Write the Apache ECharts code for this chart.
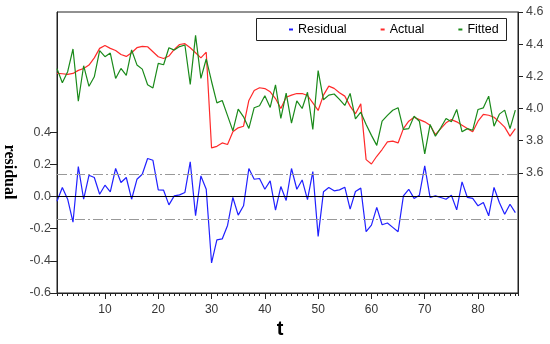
<!DOCTYPE html>
<html>
<head>
<meta charset="utf-8">
<script src="https://cdn.jsdelivr.net/npm/echarts@6/dist/echarts.min.js"></script>
<style>html,body{margin:0;padding:0;background:#fff}#c{width:550px;height:344px}</style>
</head>
<body>
<div id="c"></div>
<script>
const residual = [-0.03,0.056,-0.017,-0.16,0.186,-0.017,0.132,0.118,0.014,0.07,
0.029,0.174,0.087,0.118,-0.017,0.107,0.138,0.236,0.225,0.041,
0.039,-0.052,0.004,0.01,0.025,0.215,-0.12,0.128,0.045,-0.413,
-0.27,-0.264,-0.18,-0.006,-0.116,-0.058,0.174,0.107,0.112,0.045,
0.097,-0.085,0.062,-0.025,0.174,0.045,0.103,-0.02,0.155,-0.248,
0.029,0.056,0.035,0.041,0.058,-0.079,0.031,0.052,-0.219,-0.178,
-0.068,-0.176,-0.165,-0.192,-0.219,0.004,0.045,-0.012,0.008,0.19,
-0.006,0.004,-0.006,-0.017,0.008,-0.083,0.091,-0.006,-0.012,-0.058,
-0.037,-0.12,0.056,-0.037,-0.11,-0.048,-0.1];
const actual = [4.218,4.216,4.212,4.218,4.237,4.249,4.27,4.315,4.374,4.392,
4.374,4.361,4.336,4.324,4.347,4.378,4.386,4.384,4.353,4.322,
4.311,4.326,4.367,4.398,4.403,4.378,4.347,4.315,4.35,3.755,
3.765,3.786,3.776,3.855,3.88,3.89,4.05,4.112,4.129,4.124,
4.104,4.062,4.0,4.07,4.083,4.093,4.093,4.081,4.035,3.988,
4.083,4.139,4.125,4.098,4.077,4.015,3.967,4.029,3.682,3.655,
3.703,3.745,3.792,3.797,3.786,3.875,3.921,3.946,3.931,3.917,
3.896,3.838,3.875,3.911,3.931,3.917,3.896,3.875,3.855,3.921,
3.963,3.958,3.946,3.917,3.884,3.828,3.875];
const fitted = [4.248,4.16,4.229,4.37,4.045,4.266,4.138,4.197,4.36,4.322,
4.345,4.187,4.249,4.206,4.364,4.271,4.245,4.148,4.128,4.281,
4.272,4.378,4.363,4.385,4.395,4.15,4.455,4.187,4.308,4.168,
4.035,4.05,3.956,3.861,3.996,3.948,3.876,4.005,4.017,4.079,
4.007,4.147,3.938,4.095,3.909,4.048,4.0,4.101,3.87,4.236,
4.054,4.083,4.09,4.057,4.019,4.094,3.936,3.977,3.901,3.833,
3.771,3.921,3.957,3.989,4.005,3.87,3.875,3.952,3.921,3.718,
3.9,3.828,3.88,3.938,3.917,3.994,3.855,3.875,3.865,3.994,
4.004,4.077,3.89,3.965,3.99,3.875,3.99];
const xTickLabels = [10,20,30,40,50,60,70,80];
const leftTicks = [-0.6,-0.4,-0.2,0,0.2,0.4];
const rightTicks = [3.6,3.8,4.0,4.2,4.4,4.6];
const bandLines = [0.14,-0.14];

const toPairs = arr => arr.map((v,i) => [i+1, v]);
const font = '"Liberation Sans", Arial, sans-serif';

const chart = echarts.init(document.getElementById('c'), null, {renderer:'canvas'});
chart.setOption({
  animation:false,
  backgroundColor:'#fff',
  grid:{left:57, right:32, top:12, bottom:51, show:true, borderColor:'#222', borderWidth:1, backgroundColor:'transparent'},
  graphic:[
    {type:'rect', z:3, shape:{x:256.5, y:18.5, width:250, height:22}, style:{fill:'#fff', stroke:'#222', lineWidth:1}},
    {type:'text', z:5, x:9, y:172, rotation:-Math.PI/2, style:{text:'residual', font:'bold 16px "Liberation Serif", "Times New Roman", serif', fill:'#000', align:'center', verticalAlign:'middle'}},
    {type:'text', z:5, x:280, y:329, style:{text:'t', font:'bold 20px ' + font, fill:'#000', align:'center', verticalAlign:'middle'}}
  ],
  legend:{
    left:289, top:23, padding:0, itemGap:34, itemWidth:4, itemHeight:2, icon:'rect', z:6,
    textStyle:{fontFamily:font, fontSize:12.5, color:'#000'},
    data:['Residual','Actual','Fitted']
  },
  xAxis:[
    {type:'value', min:1, max:87.5, interval:1, position:'bottom',
     axisLine:{show:true, onZero:false, lineStyle:{color:'#222'}},
     axisTick:{show:true, length:3, lineStyle:{color:'#222'}},
     axisLabel:{show:false}, splitLine:{show:false}},
    {type:'value', min:1, max:87.5, position:'bottom',
     axisLine:{show:false, onZero:false},
     axisTick:{show:true, length:6, customValues:xTickLabels, lineStyle:{color:'#222'}},
     axisLabel:{show:true, customValues:xTickLabels, margin:11, color:'#333', fontFamily:font, fontSize:12},
     splitLine:{show:false}}
  ],
  yAxis:[
    {type:'value', min:-0.6, max:1.147, position:'left',
     axisLine:{show:true, onZero:false, lineStyle:{color:'#222'}},
     axisTick:{show:true, length:7, customValues:leftTicks, lineStyle:{color:'#222'}},
     axisLabel:{show:true, customValues:leftTicks, formatter:v=>Number(v).toFixed(1), margin:6, color:'#444', fontFamily:font, fontSize:12.5},
     splitLine:{show:false}},
    {type:'value', min:2.853, max:4.6, position:'right',
     axisLine:{show:true, onZero:false, lineStyle:{color:'#222'}},
     axisTick:{show:true, length:5, customValues:rightTicks, lineStyle:{color:'#222'}},
     axisLabel:{show:true, customValues:rightTicks, formatter:v=>Number(v).toFixed(1), margin:8, color:'#444', fontFamily:font, fontSize:12.5},
     splitLine:{show:false}}
  ],
  series:[
    {name:'Residual', type:'line', xAxisIndex:0, yAxisIndex:0, data:toPairs(residual), symbol:'none',
     lineStyle:{color:'#2020ff', width:1.2}, itemStyle:{color:'#2020ff'},
     markLine:{silent:true, symbol:['none','none'], label:{show:false},
       data:[{yAxis:0, lineStyle:{color:'#000', type:'solid', width:1}}].concat(
         bandLines.map(v => ({yAxis:v, lineStyle:{color:'#999', type:[10,3,2,3], width:1}})))}},
    {name:'Actual', type:'line', xAxisIndex:0, yAxisIndex:1, data:toPairs(actual), symbol:'none',
     lineStyle:{color:'#ff2a2a', width:1.2}, itemStyle:{color:'#ff2a2a'}},
    {name:'Fitted', type:'line', xAxisIndex:0, yAxisIndex:1, data:toPairs(fitted), symbol:'none',
     lineStyle:{color:'#1a8a1a', width:1.2}, itemStyle:{color:'#1a8a1a'}}
  ]
});
</script>
</body>
</html>
